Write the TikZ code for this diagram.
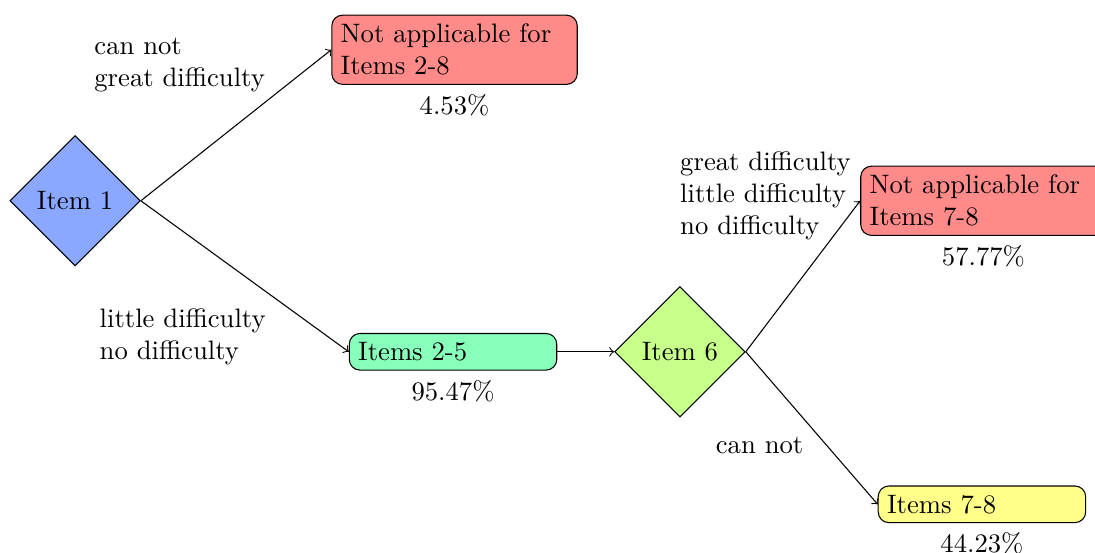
\documentclass[tikz,border=0pt]{standalone}
\usetikzlibrary{shapes.geometric,positioning}
\definecolor{itemblue}{RGB}{138,168,255}
\definecolor{itemred}{RGB}{255,138,138}
\definecolor{itemmint}{RGB}{136,255,186}
\definecolor{itemlime}{RGB}{200,255,138}
\definecolor{itemyellow}{RGB}{255,255,138}
\tikzset{
  question/.style={diamond,draw,aspect=1},
  outcome/.style={rectangle,draw,rounded corners,align=left},
  share/.style={below},
  answer/.style={align=left,anchor=west}
}
\begin{document}
\begin{tikzpicture}[->]
\useasboundingbox (0,0) rectangle (14.43,7.286);
\node[question,fill=itemblue] (q1) at (0.99,4.64) {Item 1};
\node[outcome,fill=itemred,text width=3cm] (na28) at (5.99,6.63) {Not applicable for\\Items 2-8};
\node[share] (p453) at (na28.south) {4.53\%};
\node[outcome,fill=itemmint,text width=2.5cm] (i25) at (5.97,2.65) {Items 2-5};
\node[share] (p9547) at (i25.south) {95.47\%};
\node[question,fill=itemlime] (q6) at (8.96,2.65) {Item 6};
\node[outcome,fill=itemred,text width=3cm] (na78) at (12.96,4.64) {Not applicable for\\Items 7-8};
\node[share] (p5777) at (na78.south) {57.77\%};
\node[outcome,fill=itemyellow,text width=2.5cm] (i78) at (12.94,0.64) {Items 7-8};
\node[share] (p4423) at (i78.south) {44.23\%};
% answers
\node[answer] (a1) at (1.12,6.43) {can not\\great difficulty};
\node[answer] (a2) at (1.19,2.85) {little difficulty\\no difficulty};
\node[answer] (a3) at (8.84,4.70) {great difficulty\\little difficulty\\no difficulty};
\node (a4) at (10.01,1.41) {can not};
% connectors
\draw (q1.east)--(na28.west);
\draw (q1.east)--(i25.west);
\draw (i25.east)--(q6.west);
\draw (q6.east)--(na78.west);
\draw (q6.east)--(i78.west);
\end{tikzpicture}
\end{document}
